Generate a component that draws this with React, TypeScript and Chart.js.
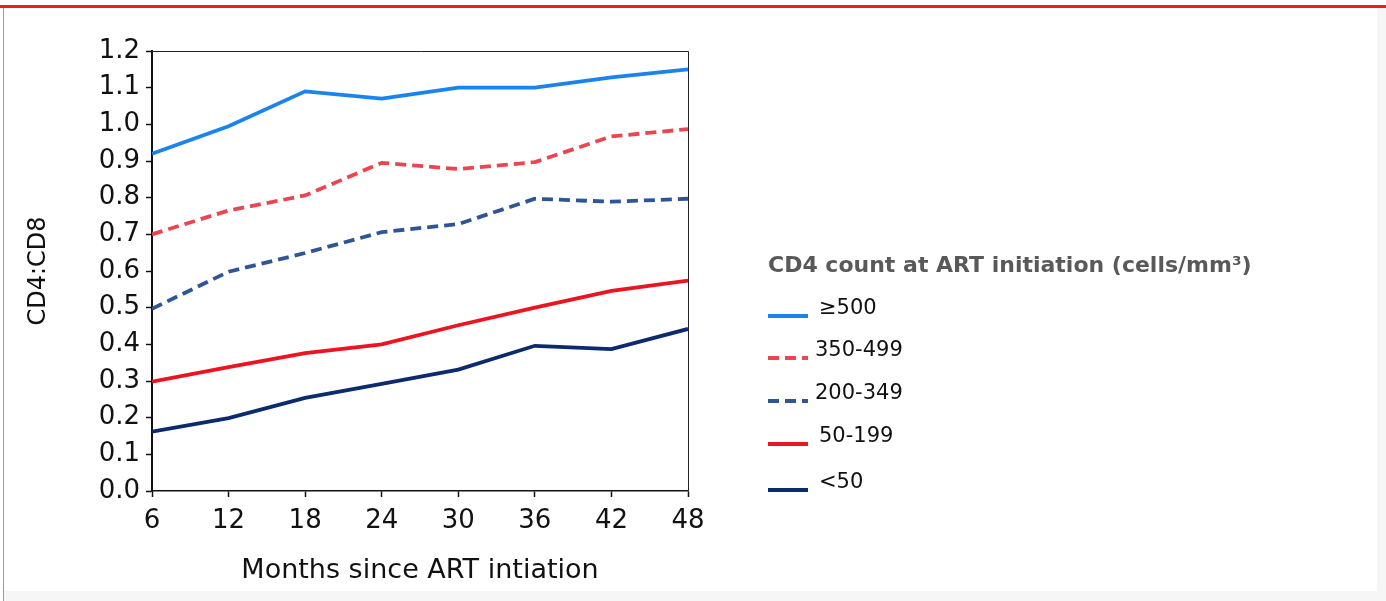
import React, { useEffect, useRef } from "react";
import { Chart, registerables } from "chart.js";

Chart.register(...registerables);

// ---- Data ----
const months = [6, 12, 18, 24, 30, 36, 42, 48];
const yTicks = [0, 0.1, 0.2, 0.3, 0.4, 0.5, 0.6, 0.7, 0.8, 0.9, 1.0, 1.1, 1.2];
const seriesLabels = ["≥500", "350-499", "200-349", "50-199", "<50"];
const cd4Ge500 = [0.92, 0.995, 1.09, 1.07, 1.1, 1.1, 1.128, 1.15];
const cd4From350 = [0.7, 0.765, 0.806, 0.895, 0.878, 0.897, 0.967, 0.987];
const cd4From200 = [0.497, 0.598, 0.649, 0.706, 0.728, 0.797, 0.789, 0.797];
const cd4From50 = [0.298, 0.338, 0.376, 0.4, 0.452, 0.5, 0.546, 0.574];
const cd4Lt50 = [0.162, 0.199, 0.254, 0.292, 0.331, 0.396, 0.387, 0.442];

const legendTitle = "CD4 count at ART initiation (cells/mm³)";
const xTitle = "Months since ART intiation";
const yTitle = "CD4:CD8";

const FONT = "'DejaVu Sans', Verdana, sans-serif";

const legendPlugin = {
  id: "customLegend",
  afterDraw(chart: any) {
    const ctx = chart.ctx;
    ctx.save();
    ctx.fillStyle = "#595959";
    ctx.font = `bold 22px ${FONT}`;
    ctx.textBaseline = "middle";
    ctx.textAlign = "left";
    ctx.fillText(legendTitle, 768, 266);
    const rows = [309, 351, 394, 437, 483];
    chart.data.datasets.forEach((ds: any, i: number) => {
      const y = rows[i];
      ctx.beginPath();
      ctx.strokeStyle = ds.borderColor;
      ctx.lineWidth = ds.borderWidth;
      ctx.setLineDash(ds.borderDash || []);
      ctx.moveTo(768, y + 7);
      ctx.lineTo(808, y + 7);
      ctx.stroke();
      ctx.setLineDash([]);
      ctx.fillStyle = "#111";
      ctx.font = `21px ${FONT}`;
      ctx.fillText(ds.label, ds.borderDash ? 815 : 819, y);
    });
    ctx.restore();
  },
};

const framePlugin = {
  id: "frame",
  beforeDatasetsDraw(chart: any) {
    const { ctx, chartArea } = chart;
    ctx.save();
    ctx.strokeStyle = "#222";
    ctx.lineWidth = 1;
    ctx.beginPath();
    ctx.moveTo(chartArea.left, chartArea.top + 0.5);
    ctx.lineTo(chartArea.right + 0.5, chartArea.top + 0.5);
    ctx.lineTo(chartArea.right + 0.5, chartArea.bottom);
    ctx.stroke();
    ctx.restore();
  },
};

export default function App() {
  const ref = useRef<HTMLCanvasElement | null>(null);

  useEffect(() => {
    if (!ref.current) return;
    const mk = (vals: number[]) => months.map((m, i) => ({ x: m, y: vals[i] }));
    const chart = new Chart(ref.current, {
      type: "line",
      data: {
        datasets: [
          { label: seriesLabels[0], data: mk(cd4Ge500), borderColor: "#1b84ec", borderWidth: 3.8, pointRadius: 0, tension: 0 },
          { label: seriesLabels[1], data: mk(cd4From350), borderColor: "#ec4550", borderWidth: 3.8, borderDash: [11, 6], pointRadius: 0, tension: 0 },
          { label: seriesLabels[2], data: mk(cd4From200), borderColor: "#2f5597", borderWidth: 3.8, borderDash: [11, 6], pointRadius: 0, tension: 0 },
          { label: seriesLabels[3], data: mk(cd4From50), borderColor: "#ea1520", borderWidth: 3.8, pointRadius: 0, tension: 0 },
          { label: seriesLabels[4], data: mk(cd4Lt50), borderColor: "#0c2a6e", borderWidth: 3.8, pointRadius: 0, tension: 0 },
        ],
      } as any,
      options: {
        animation: false,
        responsive: false,
        maintainAspectRatio: false,
        layout: { padding: { left: 0, top: 51, right: 1386 - 688, bottom: 0 } },
        plugins: { legend: { display: false }, tooltip: { enabled: false } },
        scales: {
          x: {
            type: "linear",
            min: months[0],
            max: months[months.length - 1],
            afterBuildTicks: (s: any) => {
              s.ticks = months.map((v) => ({ value: v }));
            },
            afterFit: (s: any) => {
              s.height = 110;
            },
            grid: { drawOnChartArea: false, drawTicks: true, tickLength: 6, tickColor: "#111", tickWidth: 1.5 },
            border: { display: true, color: "#111", width: 1.5 },
            ticks: {
              autoSkip: false,
              maxRotation: 0,
              padding: 9,
              color: "#111",
              font: { family: FONT, size: 26 },
              callback: (v: any) => String(v),
            },
            title: { display: true, text: xTitle, color: "#111", font: { family: FONT, size: 27 }, padding: 14 },
          },
          y: {
            min: 0,
            max: 1.2,
            afterBuildTicks: (s: any) => {
              s.ticks = yTicks.map((v) => ({ value: v }));
            },
            afterFit: (s: any) => {
              s.width = 152;
            },
            grid: { drawOnChartArea: false, drawTicks: true, tickLength: 6, tickColor: "#111", tickWidth: 1.5 },
            border: { display: true, color: "#111", width: 2 },
            ticks: {
              padding: 6,
              color: "#111",
              font: { family: FONT, size: 26 },
              callback: (v: any) => Number(v).toFixed(1),
            },
            title: { display: true, text: yTitle, color: "#111", font: { family: FONT, size: 24 }, padding: 24 },
          },
        },
      } as any,
      plugins: [framePlugin, legendPlugin],
    });
    return () => chart.destroy();
  }, []);

  return (
    <div style={{ position: "fixed", left: 0, top: 0, width: 1386, height: 601, background: "#fff", overflow: "hidden" }}>
      <div style={{ position: "absolute", left: 0, top: 5, width: 1386, height: 3, background: "#ee1c25" }} />
      <div style={{ position: "absolute", left: 3, top: 8, width: 1, height: 593, background: "#9a9a9a" }} />
      <div style={{ position: "absolute", left: 1377, top: 8, width: 9, height: 593, background: "#f6f6f6" }} />
      <div style={{ position: "absolute", left: 4, top: 591, width: 1382, height: 10, background: "#f6f6f6" }} />
      <canvas ref={ref} width={1386} height={601} style={{ position: "absolute", left: 0, top: 0, width: 1386, height: 601 }} />
    </div>
  );
}
